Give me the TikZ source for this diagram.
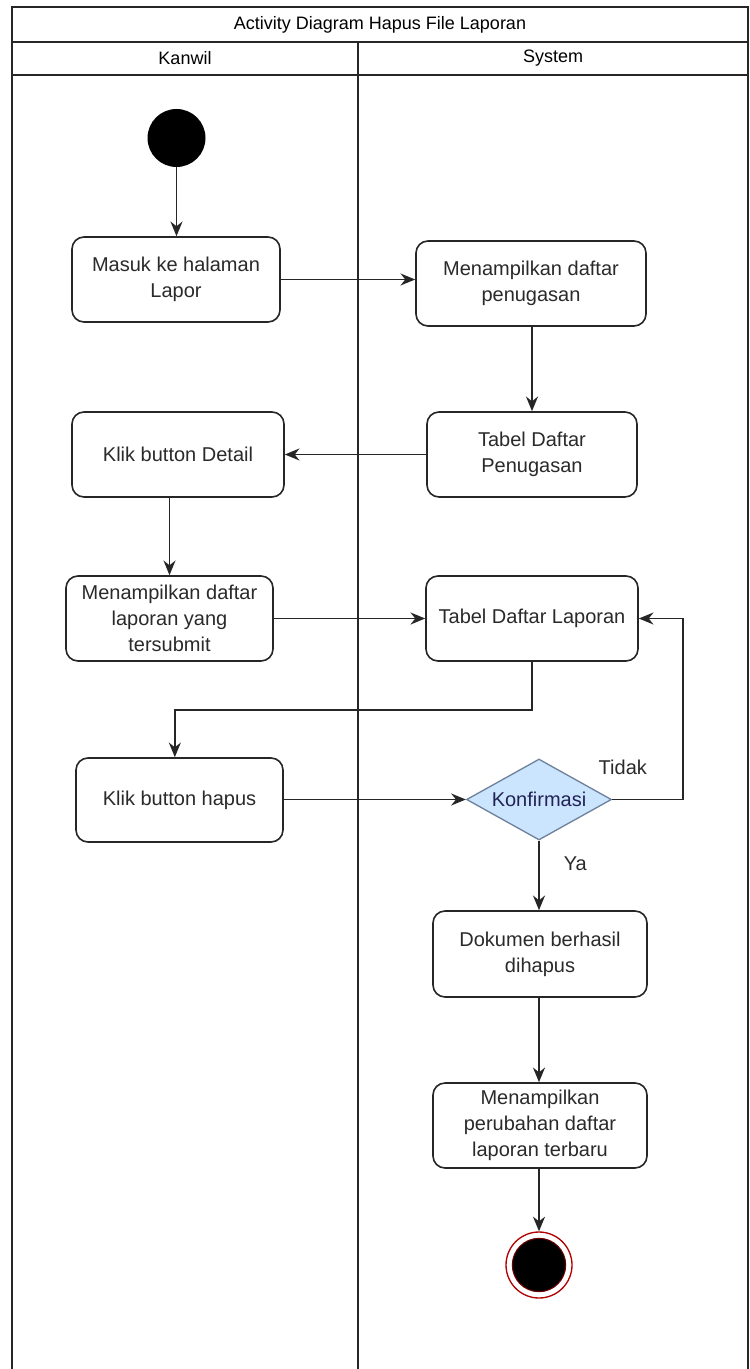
\documentclass[tikz,border=0pt]{standalone}
\usepackage{fontspec}
\setmainfont{Liberation Sans}
\usepackage{xcolor}
\usetikzlibrary{arrows.meta}
\usetikzlibrary{shapes.geometric}

\definecolor{garis}{HTML}{262626}
\definecolor{teks}{HTML}{2A2A2A}
\definecolor{isiKonf}{HTML}{CCE5FF}
\definecolor{garisKonf}{HTML}{6F829C}
\definecolor{merahAkhir}{HTML}{B20000}

\tikzset{
    aksi/.style={draw=garis, line width=1.2pt, rounded corners=9pt, fill=white,
        align=center, text=teks, font=\fontsize{15}{19.5}\selectfont,
        inner sep=2pt, minimum height=63.75pt},
    alur/.style={draw=garis, line width=1.3pt, -{Stealth[length=11pt,width=9pt]}},
    lajur/.style={draw=garis, line width=1.5pt},
    judulLajur/.style={text=black, font=\fontsize{13.5}{16}\selectfont},
    label/.style={text=teks, font=\fontsize{15}{18}\selectfont, inner sep=2pt},
}

\begin{document}
\begin{tikzpicture}[x=0.75pt, y=-0.75pt]
\useasboundingbox (0,0) rectangle (749,1369);
\begin{scope}
    % swimlane frame
    \draw[lajur] (12,1380) -- (12,7) -- (747.5,7) -- (747.5,1380);
    \draw[lajur] (12,42) -- (747.5,42);
    \draw[lajur] (12,75) -- (747.5,75);
    \draw[lajur] (358,42) -- (358,1380);
    \node[judulLajur] (judul) at (380,24.5) {Activity Diagram Hapus File Laporan};
    \node[judulLajur] (kanwil) at (185,58.5) {Kanwil};
    \node[judulLajur] (sistem) at (553,58.5) {System};

    % start / end
    \node[circle, fill=black, minimum size=43.5pt, inner sep=0] (mulai) at (176.5,138) {};
    \node[circle, draw=merahAkhir, line width=1pt, fill=white, minimum size=49.5pt, inner sep=0] (selesai) at (539,1265) {};
    \fill[black, draw=merahAkhir!60!black, line width=0.8pt] (selesai) circle (20pt);

    % Kanwil lane
    \node[aksi, minimum width=156pt] (masuk) at (176,279.5) {Masuk ke halaman\\Lapor};
    \node[aksi, minimum width=159pt] (klikDetail) at (178,454.5) {Klik button Detail};
    \node[aksi, minimum width=155.25pt] (tampilLapor) at (169.5,618.5) {Menampilkan daftar\\laporan yang\\tersubmit};
    \node[aksi, minimum width=155.25pt, minimum height=63pt] (klikHapus) at (179.5,800) {Klik button hapus};

    % System lane
    \node[aksi, minimum width=172.5pt] (tampilTugas) at (531,283.5) {Menampilkan daftar\\penugasan};
    \node[aksi, minimum width=157.5pt] (tabelTugas) at (532,454.5) {Tabel Daftar\\Penugasan};
    \node[aksi, minimum width=159pt] (tabelLapor) at (532,618.5) {Tabel Daftar Laporan};
    \node[diamond, draw=garisKonf, line width=1pt, fill=isiKonf, text=teks!80!blue,
        font=\fontsize{15}{18}\selectfont, inner sep=0pt, aspect=1.8,
        minimum width=108.75pt, minimum height=60.75pt] (konfirmasi) at (539,799.5) {Konfirmasi};
    \node[aksi, minimum width=160.5pt, minimum height=64.5pt] (dokumen) at (540,954) {Dokumen berhasil\\dihapus};
    \node[aksi, minimum width=160.5pt] (perubahan) at (540,1125.5) {Menampilkan\\perubahan daftar\\laporan terbaru};

    % flow
    \draw[alur] (mulai) -- (mulai |- masuk.north);
    \draw[alur] (masuk.east) -- (masuk.east -| tampilTugas.west);
    \draw[alur] (tampilTugas.south -| tabelTugas.north) -- (tabelTugas.north);
    \draw[alur] (tabelTugas.west) -- (tabelTugas.west -| klikDetail.east);
    \draw[alur] (tampilLapor.north |- klikDetail.south) -- (tampilLapor.north);
    \draw[alur] (tampilLapor.east) -- (tampilLapor.east -| tabelLapor.west);
    \draw[alur] (tabelLapor.south) -- ++(0,48) -| ([xshift=-3.5]klikHapus.north);
    \draw[alur] (klikHapus.east |- konfirmasi.west) -- (konfirmasi.west);
    \draw[alur] (konfirmasi.east) -- ++(71,0) node[label, pos=0.15, above=16pt] {Tidak} |- (tabelLapor.east);
    \draw[alur] (konfirmasi.south) -- node[label, pos=0.33, right=16pt] {Ya} (konfirmasi.south |- dokumen.north);
    \draw[alur] (konfirmasi.south |- dokumen.south) -- (konfirmasi.south |- perubahan.north);
    \draw[alur] (konfirmasi.south |- perubahan.south) -- (selesai);
\end{scope}
\end{tikzpicture}
\end{document}
